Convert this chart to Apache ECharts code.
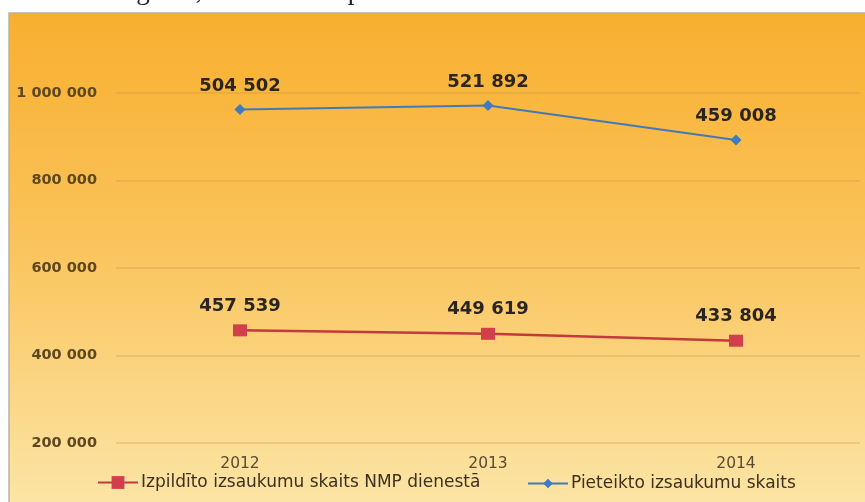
<!DOCTYPE html>
<html>
<head>
<meta charset="utf-8">
<script src="https://cdn.jsdelivr.net/npm/echarts@6/dist/echarts.min.js"></script>
<style>
  html, body { margin: 0; padding: 0; background: #fff; }
  #chart { width: 865px; height: 502px; }
</style>
</head>
<body>
<div id="chart"></div>
<script>
// gadi
var years = ['2012', '2013', '2014'];
// izpildīto izsaukumu skaits NMP dienestā
var izpildito = [457539, 449619, 433804];
// pieteikto izsaukumu skaits (sakrauts virs izpildītajiem)
var pieteikto = [504502, 521892, 459008];
// y ass
var yMin = 200000, yMax = 1000000, yStep = 200000;

function fmt(v) {
  return String(v).replace(/\B(?=(\d{3})+(?!\d))/g, ' ');
}

var myChart = echarts.init(document.getElementById('chart'));

var labelStyle = {
  show: true, position: 'top', distance: 9,
  color: '#2a2520', fontSize: 18, fontWeight: 'bold', fontFamily: 'DejaVu Sans',
  formatter: function (p) { return fmt(p.value); }
};

myChart.setOption({
  backgroundColor: '#ffffff',
  animation: false,
  graphic: [
    {
      type: 'rect',
      z: -10,
      shape: { x: 9, y: 13, width: 870, height: 500 },
      style: {
        fill: new echarts.graphic.LinearGradient(0, 0, 0, 1, [
          { offset: 0, color: '#F8AF2E' },
          { offset: 0.45, color: '#FAC35A' },
          { offset: 1, color: '#FCE6A8' }
        ]),
        stroke: '#b9b2a4',
        lineWidth: 1.5
      }
    },
    {
      type: 'text',
      left: -4,
      top: -22,
      z: -20,
      style: {
        text: 'zām ar 2014.gadu , va            ka par izsaukumu',
        font: '27px "Liberation Serif"',
        fill: '#222'
      }
    }
  ],
  grid: { left: 116, right: 5, top: 93, bottom: 59 },
  legend: [
    {
      left: 97, top: 474, padding: 0,
      itemWidth: 40, itemHeight: 16,
      data: ['Izpildīto izsaukumu skaits NMP dienestā'],
      textStyle: { color: '#3d3020', fontSize: 17, fontFamily: 'DejaVu Sans', padding: [0, 0, 0, -2] }
    },
    {
      left: 527, top: 475, padding: 0,
      itemWidth: 40, itemHeight: 12,
      data: ['Pieteikto izsaukumu skaits'],
      textStyle: { color: '#3d3020', fontSize: 17, fontFamily: 'DejaVu Sans', padding: [0, 0, 0, -2] }
    }
  ],
  xAxis: {
    type: 'category',
    data: years,
    boundaryGap: true,
    axisLine: { show: false },
    axisTick: { show: false },
    axisLabel: { color: '#5a4a32', fontSize: 15.5, fontFamily: 'DejaVu Sans', margin: 13 }
  },
  yAxis: {
    type: 'value',
    min: yMin, max: yMax, interval: yStep,
    axisLine: { show: false },
    axisTick: { show: false },
    splitLine: { lineStyle: { color: 'rgba(200,150,70,0.4)', width: 1.5 } },
    axisLabel: {
      color: '#5e4824', fontSize: 14.5, fontWeight: 'bold', fontFamily: 'DejaVu Sans', margin: 19,
      formatter: function (v) { return fmt(v); }
    }
  },
  series: [
    {
      name: 'Izpildīto izsaukumu skaits NMP dienestā',
      type: 'line',
      stack: 'kopa',
      data: izpildito,
      symbol: 'rect',
      symbolSize: [14, 12],
      lineStyle: { color: '#C23A3A', width: 2.5 },
      itemStyle: { color: '#D13F4C' },
      label: labelStyle
    },
    {
      name: 'Pieteikto izsaukumu skaits',
      type: 'line',
      stack: 'kopa',
      data: pieteikto,
      symbol: 'diamond',
      symbolSize: 11,
      lineStyle: { color: '#4479B8', width: 2 },
      itemStyle: { color: '#3C7CC0' },
      label: labelStyle
    }
  ]
});
</script>
</body>
</html>
